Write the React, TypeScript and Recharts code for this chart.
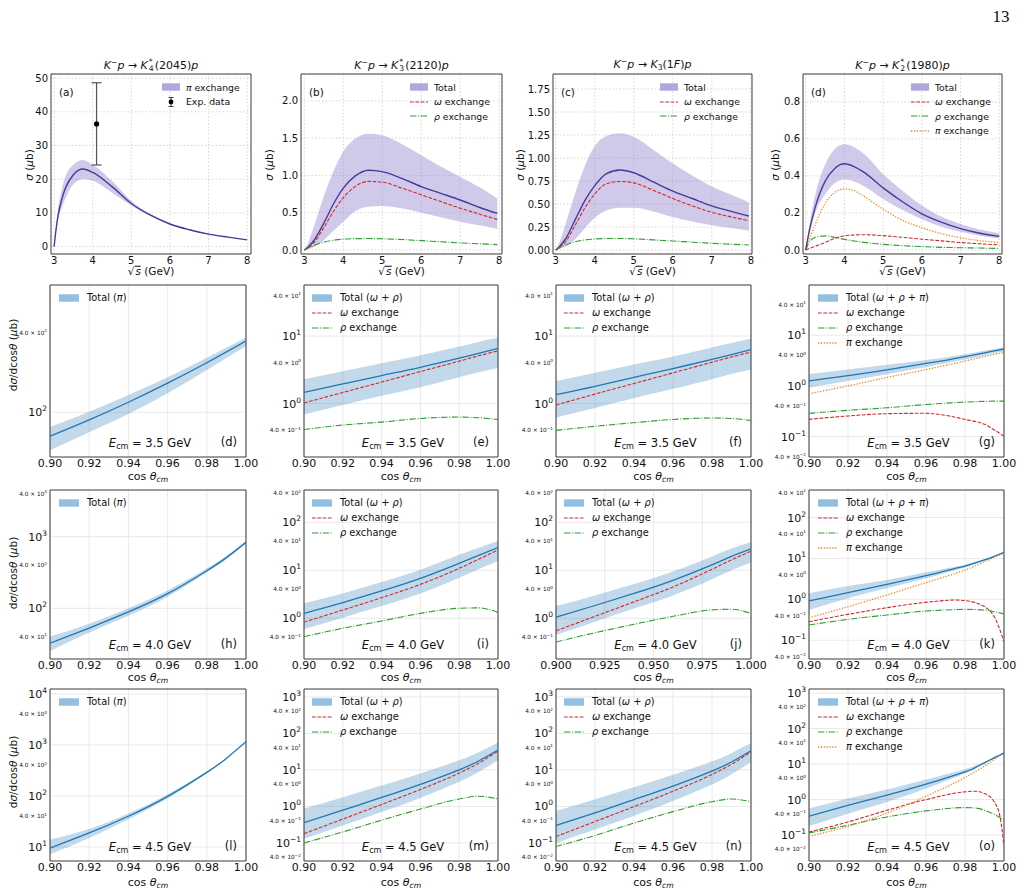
import React from 'react';
import {
  ComposedChart, Line, Area, Scatter, ErrorBar, XAxis, YAxis,
  CartesianGrid, ReferenceArea,
} from 'recharts';

const FONT = '"DejaVu Sans", sans-serif';

// ---------- top row: total cross section vs sqrt(s) ----------
const sqrtsA = [3.0, 3.05, 3.1, 3.2, 3.3, 3.5, 3.75, 4.0, 4.5, 5.0, 5.5, 6.0, 6.5, 7.0, 7.5, 8.0];
const totA = [0, 5.0, 9.0, 14.0, 17.5, 21.3, 23.0, 22.0, 17.8, 12.8, 9.3, 6.7, 5.0, 3.7, 2.8, 2.0];
const loA = [0, 4.2, 7.5, 11.5, 14.5, 18.5, 20.0, 19.5, 16.0, 12.2, 9.0, 6.5, 4.85, 3.6, 2.72, 1.95];
const hiA = [0, 6.0, 11.0, 17.0, 21.0, 24.3, 25.7, 24.3, 19.5, 13.5, 9.6, 6.9, 5.15, 3.8, 2.88, 2.05];
const expX = [4.1];
const expY = [36.4];
const expErr = [12.2];

const sqrtsB = [3.0, 3.1, 3.25, 3.5, 3.75, 4.0, 4.3, 4.65, 5.0, 5.5, 6.0, 6.5, 7.0, 7.5, 7.95];
const totB = [0, 0.04, 0.13, 0.36, 0.62, 0.83, 0.99, 1.07, 1.05, 0.96, 0.85, 0.76, 0.67, 0.57, 0.49];
const loB = [0, 0.01, 0.04, 0.13, 0.26, 0.38, 0.52, 0.58, 0.59, 0.56, 0.5, 0.44, 0.38, 0.33, 0.28];
const hiB = [0, 0.1, 0.32, 0.72, 1.06, 1.32, 1.49, 1.56, 1.54, 1.42, 1.27, 1.12, 0.98, 0.84, 0.69];
const omB = [0, 0.03, 0.1, 0.3, 0.52, 0.7, 0.85, 0.92, 0.91, 0.83, 0.74, 0.65, 0.56, 0.48, 0.41];
const rhoB = [0, 0.025, 0.06, 0.105, 0.13, 0.145, 0.152, 0.153, 0.15, 0.14, 0.125, 0.11, 0.095, 0.083, 0.072];

const sqrtsC = [3.0, 3.1, 3.25, 3.5, 3.75, 4.0, 4.3, 4.65, 5.0, 5.5, 6.0, 6.5, 7.0, 7.5, 7.95];
const totC = [0, 0.04, 0.12, 0.33, 0.54, 0.7, 0.83, 0.87, 0.84, 0.74, 0.64, 0.56, 0.48, 0.42, 0.37];
const loC = [0, 0.01, 0.04, 0.12, 0.24, 0.35, 0.43, 0.46, 0.46, 0.42, 0.36, 0.31, 0.27, 0.24, 0.21];
const hiC = [0, 0.09, 0.28, 0.62, 0.92, 1.13, 1.24, 1.27, 1.23, 1.09, 0.94, 0.81, 0.69, 0.6, 0.52];
const omC = [0, 0.03, 0.09, 0.27, 0.46, 0.61, 0.72, 0.745, 0.73, 0.65, 0.56, 0.48, 0.41, 0.36, 0.32];
const rhoC = [0, 0.025, 0.055, 0.09, 0.11, 0.12, 0.125, 0.125, 0.122, 0.11, 0.098, 0.085, 0.073, 0.063, 0.055];

const sqrtsD = [3.0, 3.1, 3.25, 3.5, 3.75, 4.0, 4.25, 4.5, 5.0, 5.5, 6.0, 6.5, 7.0, 7.5, 8.0];
const totD = [0, 0.11, 0.234, 0.37, 0.44, 0.465, 0.45, 0.42, 0.335, 0.26, 0.195, 0.15, 0.115, 0.09, 0.073];
const loD = [0, 0.09, 0.2, 0.3, 0.36, 0.38, 0.37, 0.345, 0.275, 0.215, 0.165, 0.125, 0.098, 0.077, 0.063];
const hiD = [0, 0.14, 0.3, 0.46, 0.545, 0.57, 0.555, 0.52, 0.41, 0.32, 0.24, 0.18, 0.14, 0.11, 0.09];
const piD = [0, 0.06, 0.14, 0.25, 0.31, 0.33, 0.32, 0.29, 0.22, 0.16, 0.12, 0.088, 0.065, 0.05, 0.04];
const omD = [0, 0.008, 0.02, 0.04, 0.062, 0.076, 0.081, 0.082, 0.077, 0.068, 0.058, 0.049, 0.04, 0.033, 0.027];
const rhoD = [0, 0.045, 0.068, 0.076, 0.068, 0.057, 0.048, 0.041, 0.03, 0.023, 0.018, 0.014, 0.012, 0.01, 0.008];

// ---------- E_cm = 3.5 GeV ----------
const cos21 = [0.9, 0.92, 0.94, 0.96, 0.98, 1.0];
const tot21 = [65.8, 87.5, 119, 166, 237, 346];
const lo21 = [51.5, 70.5, 97, 139, 209, 318];
const hi21 = [77.4, 101, 135, 184, 259, 369];

const cos22 = [0.9, 0.92, 0.94, 0.96, 0.98, 0.99, 1.0];
const tot22 = [1.46, 1.95, 2.6, 3.45, 4.7, 5.55, 6.6];
const lo22 = [0.69, 0.95, 1.3, 1.75, 2.45, 2.9, 3.4];
const hi22 = [2.3, 3.0, 3.95, 5.2, 7.0, 8.2, 9.5];
const om22 = [1.02, 1.46, 2.08, 2.98, 4.25, 5.1, 6.05];
const rho22 = [0.41, 0.48, 0.53, 0.6, 0.63, 0.615, 0.58];

const cos23 = [0.9, 0.92, 0.94, 0.96, 0.98, 0.99, 1.0];
const tot23 = [1.35, 1.8, 2.45, 3.3, 4.5, 5.3, 6.3];
const lo23 = [0.62, 0.86, 1.2, 1.65, 2.3, 2.75, 3.2];
const hi23 = [2.15, 2.85, 3.8, 5.0, 6.8, 7.9, 9.2];
const om23 = [0.95, 1.38, 1.98, 2.85, 4.1, 4.9, 5.8];
const rho23 = [0.4, 0.46, 0.52, 0.58, 0.61, 0.6, 0.56];

const cos24 = [0.9, 0.92, 0.94, 0.96, 0.97, 0.98, 0.99, 0.995, 1.0];
const tot24 = [1.26, 1.6, 2.08, 2.78, 3.2, 3.77, 4.5, 4.9, 5.35];
const lo24 = [0.93, 1.25, 1.7, 2.35, 2.8, 3.3, 4.0, 4.4, 4.75];
const hi24 = [1.71, 2.1, 2.6, 3.25, 3.65, 4.2, 4.95, 5.35, 5.8];
const pi24 = [0.7, 1.0, 1.47, 2.1, 2.55, 3.1, 3.8, 4.2, 4.6];
const om24 = [0.218, 0.255, 0.283, 0.288, 0.262, 0.218, 0.174, 0.135, 0.102];
const rho24 = [0.286, 0.33, 0.37, 0.43, 0.455, 0.48, 0.495, 0.5, 0.5];

// ---------- E_cm = 4.0 GeV ----------
const cos31 = [0.9, 0.92, 0.94, 0.96, 0.98, 0.99, 1.0];
const tot31 = [32.5, 53, 89, 160, 335, 510, 834];
const lo31 = [25.4, 46, 79, 145, 315, 482, 800];
const hi31 = [40.3, 61, 100, 177, 358, 540, 870];

const cos32 = [0.9, 0.92, 0.94, 0.96, 0.98, 0.99, 1.0];
const tot32 = [1.27, 2.12, 3.71, 6.81, 14.0, 20.5, 29.7];
const lo32 = [0.6, 1.03, 1.8, 3.3, 7.0, 10.5, 15.6];
const hi32 = [2.05, 3.3, 5.7, 10.3, 21, 29.5, 40.8];
const om32 = [0.83, 1.49, 2.69, 5.1, 11.0, 17.0, 26.5];
const rho32 = [0.415, 0.62, 0.88, 1.27, 1.62, 1.65, 1.33];

const cos33 = [0.9, 0.92, 0.94, 0.96, 0.98, 0.99, 1.0];
const tot33 = [1.05, 1.85, 3.3, 6.2, 13, 19.5, 28];
const lo33 = [0.45, 0.85, 1.6, 3.0, 6.5, 10, 14.5];
const hi33 = [1.8, 3.0, 5.2, 9.5, 19.5, 28.5, 39];
const om33 = [0.55, 1.1, 2.2, 4.5, 10.5, 16.5, 25];
const rho33 = [0.32, 0.5, 0.75, 1.1, 1.5, 1.55, 1.25];

const cos34 = [0.9, 0.92, 0.94, 0.96, 0.975, 0.98, 0.99, 0.995, 1.0];
const tot34 = [0.91, 1.46, 2.33, 3.79, 5.7, 6.53, 9.2, 11.3, 14.1];
const lo34 = [0.55, 1.06, 1.86, 3.26, 5.15, 6.0, 8.8, 10.9, 13.8];
const hi34 = [1.4, 2.12, 2.97, 4.57, 6.3, 7.0, 9.6, 11.7, 14.5];
const pi34 = [0.356, 0.66, 1.28, 2.56, 4.3, 5.2, 8.3, 10.6, 13.3];
const om34 = [0.284, 0.43, 0.625, 0.845, 0.96, 0.93, 0.66, 0.377, 0.092];
const rho34 = [0.236, 0.324, 0.414, 0.519, 0.56, 0.569, 0.55, 0.5, 0.438];

// ---------- E_cm = 4.5 GeV ----------
const cos41 = [0.9, 0.92, 0.94, 0.96, 0.98, 0.99, 1.0];
const tot41 = [9.5, 18.8, 40, 98, 290, 545, 1156];
const lo41 = [7.2, 15, 35, 89, 278, 532, 1140];
const hi41 = [13.9, 22.5, 45.5, 107, 300, 558, 1170];

const cos42 = [0.9, 0.92, 0.94, 0.96, 0.98, 0.99, 1.0];
const tot42 = [0.36, 0.79, 1.76, 4.04, 10.1, 17.6, 35.2];
const lo42 = [0.13, 0.3, 0.7, 1.71, 4.72, 8.8, 18.4];
const hi42 = [0.88, 1.79, 3.75, 8.0, 18.4, 30.5, 56.8];
const om42 = [0.18, 0.45, 1.135, 2.92, 8.2, 15.3, 32.7];
const rho42 = [0.1, 0.2, 0.42, 0.85, 1.6, 1.9, 1.6];

const cos43 = [0.9, 0.92, 0.94, 0.96, 0.98, 0.99, 1.0];
const tot43 = [0.3, 0.67, 1.54, 3.6, 9.3, 16.5, 33.6];
const lo43 = [0.1, 0.234, 0.56, 1.41, 3.98, 7.6, 16.2];
const hi43 = [0.75, 1.57, 3.35, 7.33, 17.2, 28.8, 54.3];
const om43 = [0.15, 0.385, 0.99, 2.61, 7.5, 14.3, 31.3];
const rho43 = [0.08, 0.16, 0.35, 0.72, 1.35, 1.6, 1.35];

const cos44 = [0.9, 0.92, 0.94, 0.96, 0.98, 0.985, 0.99, 0.995, 0.998, 1.0];
const tot44 = [0.339, 0.69, 1.33, 2.71, 6.04, 7.8, 10.8, 15, 18, 20.7];
const lo44 = [0.177, 0.4, 0.86, 2.04, 5.42, 7.2, 10.3, 14.5, 17.5, 20];
const hi44 = [0.557, 1.07, 1.91, 3.67, 7.18, 8.9, 11.6, 15.8, 18.8, 21.5];
const pi44 = [0.092, 0.177, 0.42, 1.24, 4.18, 6.0, 8.7, 13.5, 17.5, 20.5];
const om44 = [0.122, 0.234, 0.5, 1.0, 1.65, 1.72, 1.48, 0.86, 0.32, 0.051];
const rho44 = [0.115, 0.189, 0.324, 0.479, 0.594, 0.58, 0.5, 0.385, 0.31, 0.261];

// ---------- axis ticks ----------
const sqrtsTicks = [3, 4, 5, 6, 7, 8];
const yTicksA = [0, 10, 20, 30, 40, 50];
const yTicksB = [0, 0.5, 1, 1.5, 2];
const yTicksC = [0, 0.25, 0.5, 0.75, 1, 1.25, 1.5, 1.75];
const yTicksD = [0, 0.2, 0.4, 0.6, 0.8];
const cosTicks = [0.9, 0.92, 0.94, 0.96, 0.98, 1.0];
const cosTicksJ = [0.9, 0.925, 0.95, 0.975, 1.0];
const energies = ['3.5', '4.0', '4.5'];

const table = (x: number[], cols: Record<string, number[]>) =>
  x.map((xv, i) => {
    const row: Record<string, number> = { x: xv };
    for (const k of Object.keys(cols)) row[k] = cols[k][i];
    return row;
  });

// decades plus the 4x10^n positions that carry the small labels
const logTicks = ([lo, hi]: number[]) => {
  const out: number[] = [];
  for (let p = Math.floor(Math.log10(lo)); p <= Math.ceil(Math.log10(hi)); p++) {
    for (const m of [1, 4]) {
      const v = +(m * Math.pow(10, p)).toPrecision(6);
      if (v >= lo && v <= hi) out.push(v);
    }
  }
  return out;
};
const isDecade = (v: number) => Math.abs(Math.log10(v) - Math.round(Math.log10(v))) < 1e-9;

// ---------- colours / line styles ----------
const BAND_PURPLE = { color: '#9a88cf', opacity: 0.45 };
const BAND_BLUE = { color: '#1f77b4', opacity: 0.28 };
const PATCH_PURPLE = '#b2a6dc';
const PATCH_BLUE = '#93bfe1';
const TOT_P = { key: 'tot', color: '#483a9c', width: 1.4 };
const TOT_B = { key: 'tot', color: '#1f77b4', width: 1.3, curve: 'natural' };
const OMEGA = { key: 'om', color: '#d62728', width: 1.1, dash: '3.7 1.6' };
const RHO = { key: 'rho', color: '#2ca02c', width: 1.1, dash: '6.4 1.6 1 1.6' };
const PION = { key: 'pi', color: '#ff7f0e', width: 1.3, dash: '1.2 1.65' };

const PAD_L = 60, PAD_R = 26, PAD_T = 14, PAD_B = 30;

function XTick({ x, y, payload, digits, size }: any) {
  return (
    <text x={x} y={y + size * 0.85 + 1} textAnchor="middle" fontSize={size} fontFamily={FONT} fill="#111">
      {Number(payload.value).toFixed(digits)}
    </text>
  );
}

function YTick({ x, y, payload, digits, size }: any) {
  return (
    <text x={x - 3} y={y + size * 0.36} textAnchor="end" fontSize={size} fontFamily={FONT} fill="#111">
      {Number(payload.value).toFixed(digits)}
    </text>
  );
}

function LogTick({ x, y, payload }: any) {
  const v = Number(payload.value);
  const p = Math.floor(Math.log10(v) + 1e-9);
  const m = Math.round(v / Math.pow(10, p));
  const e = p < 0 ? '\u2212' + -p : String(p);
  if (m === 1) {
    return (
      <text x={x - 3} y={y + 4} textAnchor="end" fontSize={11} fontFamily={FONT} fill="#111">
        10<tspan dy={-5} fontSize={7.5}>{e}</tspan>
      </text>
    );
  }
  return (
    <text x={x - 3} y={y + 2} textAnchor="end" fontSize={5.8} fontFamily={FONT} fill="#111">
      {m.toFixed(1)} × 10<tspan dy={-2.5} fontSize={4.2}>{e}</tspan>
    </text>
  );
}

function Panel({ box, rows, xDomain, xTicks, xDigits, xSize, yDomain, log, yTicks, yDigits, ySize, band, bandCurve, lines, dotted, children }: any) {
  const [L, T, W, H] = box;
  const ticks = log ? logTicks(yDomain) : yTicks;
  const major = log ? ticks.filter(isDecade) : ticks;
  return (
    <div style={{ position: 'absolute', left: L - PAD_L, top: T - PAD_T }}>
      <ComposedChart width={W + PAD_L + PAD_R} height={H + PAD_T + PAD_B} data={rows}
        margin={{ top: PAD_T, right: PAD_R, bottom: 0, left: 0 }}>
        <CartesianGrid stroke={dotted ? '#cdcdcd' : '#e3e3e3'} strokeDasharray={dotted ? '1.5 2' : undefined}
          strokeWidth={0.8} verticalValues={xTicks} horizontalValues={major} />
        <XAxis dataKey="x" type="number" domain={xDomain} ticks={xTicks} allowDataOverflow interval={0}
          height={PAD_B} tickSize={0} tickMargin={0} tickLine={false} axisLine={false}
          tick={(p: any) => <XTick {...p} digits={xDigits} size={xSize} />} />
        <YAxis type="number" scale={log ? 'log' : 'linear'} domain={yDomain} ticks={ticks} allowDataOverflow interval={0}
          width={PAD_L} tickSize={0} tickMargin={0} tickLine={false} axisLine={false}
          tick={(p: any) => (log ? <LogTick {...p} /> : <YTick {...p} digits={yDigits} size={ySize} />)} />
        {band && (
          <Area dataKey={(d: any) => [d.lo, d.hi]} type={bandCurve || 'monotone'} stroke="none" fill={band.color}
            fillOpacity={band.opacity} isAnimationActive={false} activeDot={false} />
        )}
        {lines.map((s: any) => (
          <Line key={s.key} dataKey={s.key} type={s.curve || 'monotone'} stroke={s.color} strokeWidth={s.width}
            strokeDasharray={s.dash} dot={false} activeDot={false} isAnimationActive={false} />
        ))}
        {children}
        <ReferenceArea x1={xDomain[0]} x2={xDomain[1]} y1={yDomain[0]} y2={yDomain[1]}
          fill="none" stroke="#3a3a3a" strokeWidth={1} ifOverflow="visible" />
      </ComposedChart>
    </div>
  );
}

function Txt({ x, y, size = 11, align = 'center', rot = false, family = FONT, children }: any) {
  const tx = align === 'center' ? '-50%' : align === 'right' ? '-100%' : '0';
  return (
    <div style={{
      position: 'absolute', left: x, top: y, fontSize: size, fontFamily: family, color: '#111',
      transform: `translate(${tx}, -50%)${rot ? ' rotate(-90deg)' : ''}`, whiteSpace: 'nowrap', lineHeight: 1,
    }}>{children}</div>
  );
}

function Legend({ x, y, step, size, sw, gap, items }: any) {
  return (
    <div style={{ position: 'absolute', left: x, top: y, fontFamily: FONT, fontSize: size, color: '#111' }}>
      {items.map((it: any, i: number) => (
        <div key={i} style={{ position: 'absolute', left: 0, top: i * step, height: 0, display: 'flex', alignItems: 'center', whiteSpace: 'nowrap' }}>
          <svg width={sw} height={10} style={{ flex: 'none', display: 'block' }}>
            {it.kind === 'patch' && <rect x={0} y={1.3} width={sw} height={7.4} fill={it.color} />}
            {it.kind === 'line' && (
              <line x1={0} x2={sw} y1={5} y2={5} stroke={it.s.color} strokeWidth={it.s.width} strokeDasharray={it.s.dash} />
            )}
            {it.kind === 'err' && (
              <g stroke="#444" strokeWidth={1}>
                <line x1={sw / 2} x2={sw / 2} y1={0.5} y2={9.5} />
                <line x1={sw / 2 - 2.5} x2={sw / 2 + 2.5} y1={0.5} y2={0.5} />
                <line x1={sw / 2 - 2.5} x2={sw / 2 + 2.5} y1={9.5} y2={9.5} />
                <circle cx={sw / 2} cy={5} r={2.4} fill="#000" stroke="none" />
              </g>
            )}
          </svg>
          <span style={{ marginLeft: gap, lineHeight: 1 }}>{it.label}</span>
        </div>
      ))}
    </div>
  );
}

const I = ({ children }: any) => <span style={{ fontStyle: 'italic' }}>{children}</span>;
const Sub = ({ children }: any) => <span style={{ fontSize: '0.7em', verticalAlign: '-0.25em' }}>{children}</span>;
const Sup = ({ children }: any) => <span style={{ fontSize: '0.7em', verticalAlign: '0.5em' }}>{children}</span>;
const SubSup = ({ sub, sup }: any) => (
  <span style={{ display: 'inline-flex', flexDirection: 'column', fontSize: '0.7em', lineHeight: 0.95, verticalAlign: '0.64em', margin: '0 1px' }}>
    <span>{sup}</span><span>{sub}</span>
  </span>
);

const title = (sub: string, sup: string | null, mass: React.ReactNode) => (
  <span>
    <I>K</I><Sup>−</Sup><I>p</I> → <I>K</I>{sup ? <SubSup sub={sub} sup={sup} /> : <Sub>{sub}</Sub>}({mass})<I>p</I>
  </span>
);

const lbl = {
  pi: <span><I>π</I> exchange</span>,
  om: <span><I>ω</I> exchange</span>,
  rho: <span><I>ρ</I> exchange</span>,
  total: 'Total',
  totPi: <span>Total (<I>π</I>)</span>,
  totOR: <span>Total (<I>ω</I> + <I>ρ</I>)</span>,
  totORP: <span>Total (<I>ω</I> + <I>ρ</I> + <I>π</I>)</span>,
};

// plot-area boxes [left, top, width, height]
const topCols = [[51, 200], [301, 201], [553, 199], [803, 199]];
const lowCols = [[50, 196], [304, 194], [556, 195], [809, 195]];
const lowRows = [[285, 172], [490, 169], [689, 172]];
const xLabelY = [476.7, 678.3, 882.7];
const yLabelY = [355, 573, 772];

export default function App() {
  const topY = 74, topH = 180;
  const topBox = (c: number) => [topCols[c][0], topY, topCols[c][1], topH];
  const lowBox = (r: number, c: number) => [lowCols[c][0], lowRows[r][0], lowCols[c][1], lowRows[r][1]];

  const expRows = expX.map((x, i) => ({ x, y: expY[i], err: expErr[i] }));

  const topCommon = { xTicks: sqrtsTicks, xDigits: 0, xSize: 10, ySize: 10, dotted: true, band: BAND_PURPLE };
  const lowCommon = { xDigits: 2, xSize: 11, log: true, band: BAND_BLUE, bandCurve: 'natural' };

  const lowPanels = [
    // E = 3.5 GeV
    { r: 0, c: 0, rows: table(cos21, { tot: tot21, lo: lo21, hi: hi21 }), yDomain: [45.8, 921], lines: [TOT_B], tag: '(d)' },
    { r: 0, c: 1, rows: table(cos22, { tot: tot22, lo: lo22, hi: hi22, om: om22, rho: rho22 }), yDomain: [0.161, 57.3], lines: [TOT_B, OMEGA, RHO], tag: '(e)' },
    { r: 0, c: 2, rows: table(cos23, { tot: tot23, lo: lo23, hi: hi23, om: om23, rho: rho23 }), yDomain: [0.161, 57.3], lines: [TOT_B, OMEGA, RHO], tag: '(f)' },
    { r: 0, c: 3, rows: table(cos24, { tot: tot24, lo: lo24, hi: hi24, om: om24, rho: rho24, pi: pi24 }), yDomain: [0.0395, 98], lines: [OMEGA, RHO, PION, TOT_B], tag: '(g)' },
    // E = 4.0 GeV
    { r: 1, c: 0, rows: table(cos31, { tot: tot31, lo: lo31, hi: hi31 }), yDomain: [19.6, 4480], lines: [TOT_B], tag: '(h)' },
    { r: 1, c: 1, rows: table(cos32, { tot: tot32, lo: lo32, hi: hi32, om: om32, rho: rho32 }), yDomain: [0.142, 472], lines: [TOT_B, OMEGA, RHO], tag: '(i)' },
    { r: 1, c: 2, rows: table(cos33, { tot: tot33, lo: lo33, hi: hi33, om: om33, rho: rho33 }), yDomain: [0.142, 472], lines: [TOT_B, OMEGA, RHO], tag: '(j)', j: true },
    { r: 1, c: 3, rows: table(cos34, { tot: tot34, lo: lo34, hi: hi34, om: om34, rho: rho34, pi: pi34 }), yDomain: [0.0348, 471], lines: [OMEGA, RHO, PION, TOT_B], tag: '(k)' },
    // E = 4.5 GeV
    { r: 2, c: 0, rows: table(cos41, { tot: tot41, lo: lo41, hi: hi41 }), yDomain: [5.3, 12500], lines: [TOT_B], tag: '(l)' },
    { r: 2, c: 1, rows: table(cos42, { tot: tot42, lo: lo42, hi: hi42, om: om42, rho: rho42 }), yDomain: [0.032, 1650], lines: [TOT_B, OMEGA, RHO], tag: '(m)' },
    { r: 2, c: 2, rows: table(cos43, { tot: tot43, lo: lo43, hi: hi43, om: om43, rho: rho43 }), yDomain: [0.032, 1650], lines: [TOT_B, OMEGA, RHO], tag: '(n)' },
    { r: 2, c: 3, rows: table(cos44, { tot: tot44, lo: lo44, hi: hi44, om: om44, rho: rho44, pi: pi44 }), yDomain: [0.0186, 1300], lines: [OMEGA, RHO, PION, TOT_B], tag: '(o)' },
  ];

  const lowLegend = (c: number) => {
    const patch = { kind: 'patch', color: PATCH_BLUE };
    if (c === 0) return [{ ...patch, label: lbl.totPi }];
    const items: any[] = [
      { ...patch, label: c === 3 ? lbl.totORP : lbl.totOR },
      { kind: 'line', s: OMEGA, label: lbl.om },
      { kind: 'line', s: RHO, label: lbl.rho },
    ];
    if (c === 3) items.push({ kind: 'line', s: PION, label: lbl.pi });
    return items;
  };
  const legendX = [59, 312, 564, 818];
  const topLegendX = [162, 410, 660, 911];

  const topLegends = [
    [{ kind: 'patch', color: PATCH_PURPLE, label: lbl.pi }, { kind: 'err', label: 'Exp. data' }],
    [{ kind: 'patch', color: PATCH_PURPLE, label: lbl.total }, { kind: 'line', s: OMEGA, label: lbl.om }, { kind: 'line', s: RHO, label: lbl.rho }],
    [{ kind: 'patch', color: PATCH_PURPLE, label: lbl.total }, { kind: 'line', s: OMEGA, label: lbl.om }, { kind: 'line', s: RHO, label: lbl.rho }],
    [{ kind: 'patch', color: PATCH_PURPLE, label: lbl.total }, { kind: 'line', s: OMEGA, label: lbl.om }, { kind: 'line', s: RHO, label: lbl.rho }, { kind: 'line', s: PION, label: lbl.pi }],
  ];
  const titles = [
    title('4', '*', '2045'),
    title('3', '*', '2120'),
    title('3', null, <span>1<I>F</I></span>),
    title('2', '*', '1980'),
  ];
  const topYLabelX = [29, 269, 520, 775];

  return (
    <div style={{ position: 'absolute', left: 0, top: 0, width: 1025, height: 893, background: '#fff', overflow: 'hidden' }}>
      {/* top row */}
      <Panel {...topCommon} box={topBox(0)} rows={table(sqrtsA, { tot: totA, lo: loA, hi: hiA })}
        xDomain={[2.92, 8.1]} yDomain={[-2.2, 51.2]} yTicks={yTicksA} yDigits={0} lines={[TOT_P]}>
        <Scatter data={expRows} dataKey="y" fill="#000" isAnimationActive={false}
          shape={(p: any) => <circle cx={p.cx} cy={p.cy} r={2.6} fill="#000" />}>
          <ErrorBar dataKey="err" width={5} stroke="#555" strokeWidth={1.2} direction="y" />
        </Scatter>
      </Panel>
      <Panel {...topCommon} box={topBox(1)} rows={table(sqrtsB, { tot: totB, lo: loB, hi: hiB, om: omB, rho: rhoB })}
        xDomain={[2.915, 8.07]} yDomain={[-0.054, 2.36]} yTicks={yTicksB} yDigits={1} lines={[TOT_P, OMEGA, RHO]} />
      <Panel {...topCommon} box={topBox(2)} rows={table(sqrtsC, { tot: totC, lo: loC, hi: hiC, om: omC, rho: rhoC })}
        xDomain={[2.93, 8.03]} yDomain={[-0.043, 1.913]} yTicks={yTicksC} yDigits={2} lines={[TOT_P, OMEGA, RHO]} />
      <Panel {...topCommon} box={topBox(3)} rows={table(sqrtsD, { tot: totD, lo: loD, hi: hiD, om: omD, rho: rhoD, pi: piD })}
        xDomain={[2.93, 8.07]} yDomain={[-0.022, 0.95]} yTicks={yTicksD} yDigits={1} lines={[OMEGA, RHO, PION, TOT_P]} />

      {lowPanels.map((p) => (
        <Panel key={p.tag + p.r} {...lowCommon} box={lowBox(p.r, p.c)} rows={p.rows} yDomain={p.yDomain}
          xDomain={[0.9, 1.0]} xTicks={p.j ? cosTicksJ : cosTicks} xDigits={p.j ? 3 : 2} lines={p.lines} />
      ))}

      {/* text overlays */}
      <Txt x={1001} y={16} size={17} family='"Liberation Serif", serif'>13</Txt>
      {topCols.map(([l, w], c) => (
        <React.Fragment key={'t' + c}>
          <Txt x={l + w / 2} y={65} size={11}>{titles[c]}</Txt>
          <Txt x={l + 8} y={topY + 17.7} size={10.5} align="left">{'(' + 'abcd'[c] + ')'}</Txt>
          <Txt x={l + w / 2} y={270.7} size={10.5}>
            <span>√<span style={{ display: 'inline-block', borderTop: '0.8px solid #111', lineHeight: 0.85, paddingLeft: 1 }}><I>s</I></span> (GeV)</span>
          </Txt>
          <Txt x={topYLabelX[c]} y={165} size={10.5} rot><span><I>σ</I> (<I>μ</I>b)</span></Txt>
          <Legend x={topLegendX[c]} y={87.3} step={14.6} size={9.3} sw={18} gap={6} items={topLegends[c]} />
        </React.Fragment>
      ))}
      {lowPanels.map((p) => {
        const [l, t, w, h] = lowBox(p.r, p.c);
        return (
          <React.Fragment key={'o' + p.tag + p.r}>
            <Txt x={l + w - 9} y={t + h - 14} size={11.5} align="right">{p.tag}</Txt>
            <Txt x={l + w / 2 + 2} y={t + h - 12} size={11.5}>
              <span><I>E</I><Sub>cm</Sub> = {energies[p.r]} GeV</span>
            </Txt>
            <Txt x={l + w / 2} y={xLabelY[p.r]} size={11}>
              <span>cos <I>θ</I><Sub><I>cm</I></Sub></span>
            </Txt>
            {p.c === 0 && (
              <Txt x={13} y={yLabelY[p.r]} size={10.5} rot>
                <span>d<I>σ</I>/dcos<I>θ</I> (<I>μ</I>b)</span>
              </Txt>
            )}
            <Legend x={legendX[p.c]} y={t + 13.3} step={15} size={9.8} sw={20} gap={8} items={lowLegend(p.c)} />
          </React.Fragment>
        );
      })}
    </div>
  );
}
